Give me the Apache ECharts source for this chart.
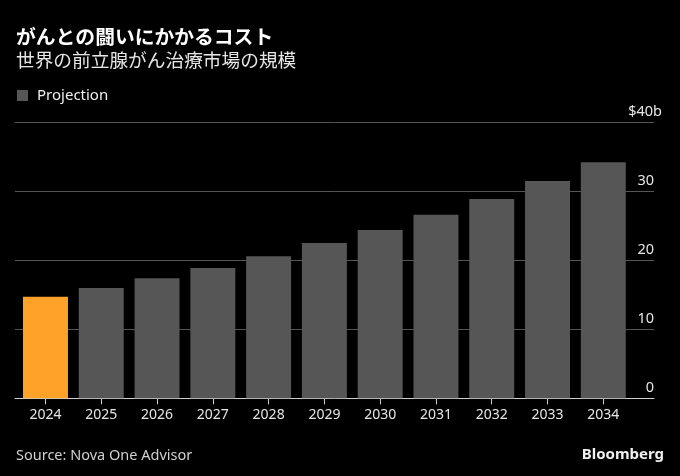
<!DOCTYPE html>
<html><head><meta charset="utf-8">
<script src="https://cdn.jsdelivr.net/npm/echarts@6/dist/echarts.min.js"></script>
<style>html,body{margin:0;padding:0;background:#000}#c{width:680px;height:476px}</style>
</head><body><div id="c"></div>
<script>
const years = ['2024','2025','2026','2027','2028','2029','2030','2031','2032','2033','2034'];
const marketSize = [14.7, 16.0, 17.4, 18.9, 20.6, 22.5, 24.4, 26.6, 28.9, 31.5, 34.2];
const highlightYears = ['2024'];
const yMin = 0, yMax = 40, yStep = 10;

const FONT = '"Noto Sans", "Noto Sans CJK JP", sans-serif';
const chart = echarts.init(document.getElementById('c'), null, {renderer: 'canvas'});

const option = {
  backgroundColor: '#000',
  animation: false,
  textStyle: {fontFamily: FONT},
  title: [
    {text: 'がんとの闘いにかかるコスト', left: 11, top: 22,
     textStyle: {color: '#fff', fontSize: 19.8, fontWeight: 'bold', fontFamily: '"Noto Sans CJK JP", sans-serif'}},
    {text: '世界の前立腺がん治療市場の規模', left: 11, top: 46,
     textStyle: {color: '#e6e6e6', fontSize: 18.7, fontWeight: 'normal', fontFamily: '"Noto Sans CJK JP", sans-serif'}},
    {text: 'Source: Nova One Advisor', left: 11, top: 444,
     textStyle: {color: '#d0d0d0', fontSize: 14.5, fontWeight: 'normal', fontFamily: FONT}},
    {text: 'Bloomberg', right: 11, top: 442,
     textStyle: {color: '#f0f0f0', fontSize: 15, fontWeight: 'bold', fontFamily: FONT}}
  ],
  legend: {
    data: ['Projection'], left: 12, top: 83, icon: 'rect', itemWidth: 11, itemHeight: 11,
    itemGap: 10, textStyle: {color: '#eee', fontSize: 15, fontFamily: FONT, padding: [0,0,0,4]}
  },
  grid: [
    {left: 15, right: 26, top: 122.3, bottom: 77.7},
    {left: 17.6, right: 48.8, top: 122.3, bottom: 77.7}
  ],
  xAxis: [
    {gridIndex: 0, type: 'value', min: 0, max: 1, axisLine: {show: true, lineStyle: {color: '#cfcfcf', width: 1}},
     axisTick: {show: false}, axisLabel: {show: false}, splitLine: {show: false}},
    {gridIndex: 1, type: 'category', data: years, axisLine: {show: false},
     axisTick: {show: true, alignWithLabel: true, length: 6, lineStyle: {color: '#cfcfcf'}},
     axisLabel: {color: '#e6e6e6', fontSize: 14, margin: 10, fontFamily: FONT}}
  ],
  yAxis: [
    {gridIndex: 0, type: 'value', min: yMin, max: yMax, interval: yStep, position: 'right',
     axisLine: {show: false}, axisTick: {show: false},
     splitLine: {lineStyle: {color: '#555', width: 1}},
     axisLabel: {inside: true, margin: -8, align: 'right', verticalAlign: 'bottom', padding: [0,0,3,0],
       color: '#e6e6e6', fontSize: 14.5, fontFamily: FONT,
       formatter: v => v === yMax ? '{t|$' + v + 'b}' : '{d|' + v + '}',
       rich: {t: {color: '#e6e6e6', fontSize: 14.5, fontFamily: FONT},
              d: {color: '#e6e6e6', fontSize: 14.5, fontFamily: FONT, padding: [0, 8, 0, 0]}}}},
    {gridIndex: 1, type: 'value', min: yMin, max: yMax, interval: yStep, show: false}
  ],
  series: [{
    name: 'Projection', type: 'bar', xAxisIndex: 1, yAxisIndex: 1,
    barCategoryGap: '19.4%',
    itemStyle: {color: '#565656'},
    data: marketSize.map((v, i) => highlightYears.includes(years[i])
      ? {value: v, itemStyle: {color: '#FFA22A'}} : v)
  }]
};
chart.setOption(option);
</script>
</body></html>
